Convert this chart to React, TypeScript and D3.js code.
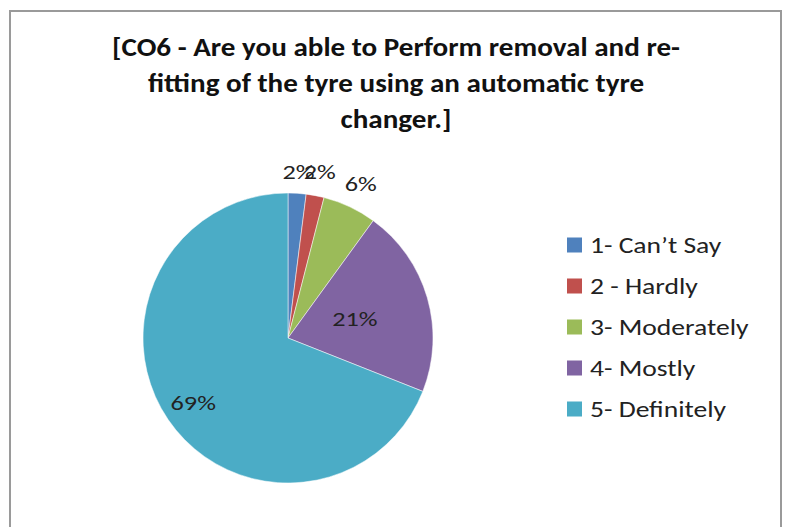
import React from "react";
import * as d3 from "d3";

const titleLines = [
  "[CO6 - Are you able to Perform removal and re-",
  "fitting of the tyre using an automatic tyre",
  "changer.]",
];
const categories = ["1- Can\u2019t Say", "2 - Hardly", "3- Moderately", "4- Mostly", "5- Definitely"];
const values = [2, 2, 6, 21, 69];
const colors = ["#4F81BD", "#C0504D", "#9BBB59", "#8064A2", "#4BACC6"];
// label radius as fraction of pie radius (Excel best-fit placement)
const labelRadiusFactor = [1.15, 1.17, 1.18, 0.48, 0.79];

const W = 788;
const H = 527;
const FONT = "Carlito, Calibri, Lato, 'Open Sans', sans-serif";

export default function App() {
  const cx = 288;
  const cy = 338;
  const r = 145;
  const pie = d3.pie<number>().sort(null).value((d) => d);
  const arcs = pie(values);
  const arc = d3.arc<d3.PieArcDatum<number>>().innerRadius(0).outerRadius(r);
  const total = d3.sum(values);

  const legendY = d3.scalePoint<string>().domain(categories).range([245, 409]);

  return (
    <svg
      width={W}
      height={H}
      style={{ position: "absolute", left: 0, top: 0, background: "#fff" }}
      fontFamily={FONT}
    >
      <rect x={0} y={0} width={W} height={H} fill="#fff" />
      <rect x={10} y={11} width={771} height={H + 10} fill="#fff" stroke="#9a9a9a" strokeWidth={2} />
      {titleLines.map((t, i) => (
        <g key={i} transform={`translate(396,${56 + i * 36}) scale(1.12,1)`}>
          <text x={0} y={0} textAnchor="middle" fontSize={26} fontWeight="bold" fill="#111">
            {t}
          </text>
        </g>
      ))}
      <g transform={`translate(${cx},${cy})`}>
        {arcs.map((a, i) => (
          <path key={i} d={arc(a) || ""} fill={colors[i]} stroke="#fff" strokeWidth={0.5} />
        ))}
        {arcs.map((a, i) => {
          const mid = (a.startAngle + a.endAngle) / 2;
          const lr = r * labelRadiusFactor[i];
          const x = Math.sin(mid) * lr;
          const y = -Math.cos(mid) * lr;
          return (
            <g key={"l" + i} transform={`translate(${x},${y}) scale(1.25,1)`}>
              <text x={0} y={0} textAnchor="middle" dominantBaseline="central" fontSize={21} fill="#222">
                {Math.round((values[i] / total) * 100) + "%"}
              </text>
            </g>
          );
        })}
      </g>
      {categories.map((c, i) => (
        <g key={c} transform={`translate(567,${legendY(c)})`}>
          <rect x={0} y={-7.5} width={15} height={15} fill={colors[i]} />
          <g transform="translate(23,0) scale(1.2,1)">
            <text x={0} y={0} dominantBaseline="central" fontSize={23} fill="#222">
              {c}
            </text>
          </g>
        </g>
      ))}
    </svg>
  );
}
